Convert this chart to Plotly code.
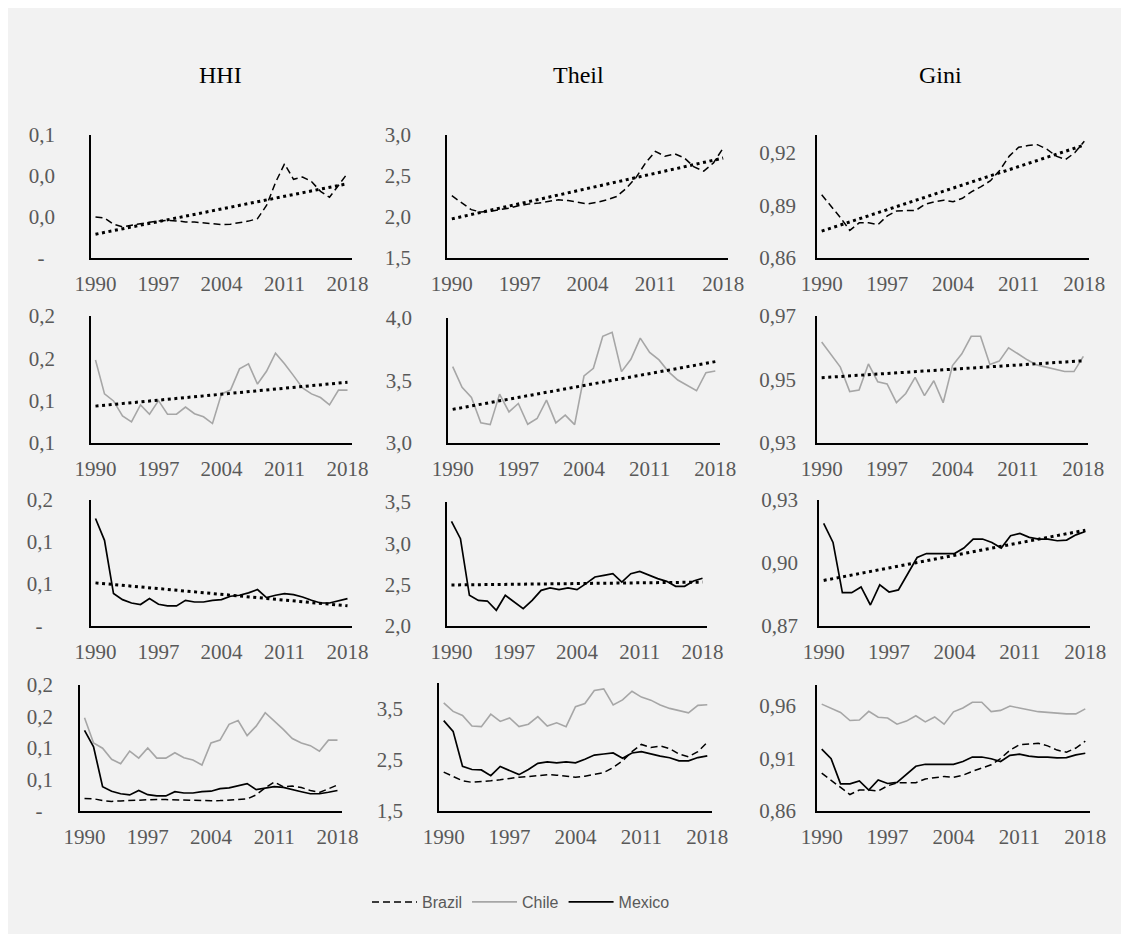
import numpy as np
import plotly.graph_objects as go

years = list(range(1990, 2019))
x_ticks = [1990, 1997, 2004, 2011, 2018]

brazil_hhi = [0.0200, 0.0195, 0.0165, 0.0152, 0.0160, 0.0168, 0.0174, 0.0180, 0.0184, 0.0181,
              0.0176, 0.0175, 0.0171, 0.0165, 0.0163, 0.0165, 0.0171, 0.0180, 0.0192, 0.0256,
              0.0368, 0.0459, 0.0384, 0.0395, 0.0373, 0.0325, 0.0296, 0.0352, 0.0413]
brazil_theil = [2.26, 2.17, 2.09, 2.06, 2.07, 2.09, 2.11, 2.14, 2.16, 2.17,
                2.19, 2.21, 2.20, 2.18, 2.16, 2.18, 2.21, 2.25, 2.35, 2.48,
                2.66, 2.80, 2.74, 2.77, 2.72, 2.61, 2.56, 2.66, 2.84]
brazil_gini = [0.8960, 0.8895, 0.8830, 0.8757, 0.8800, 0.8800, 0.8790, 0.8840, 0.8868, 0.8870,
               0.8870, 0.8905, 0.8920, 0.8929, 0.8920, 0.8940, 0.8978, 0.9006, 0.9040, 0.9100,
               0.9180, 0.9230, 0.9240, 0.9245, 0.9220, 0.9180, 0.9160, 0.9200, 0.9265]

chile_hhi = [0.148, 0.108, 0.0997, 0.082, 0.075, 0.095, 0.084, 0.100, 0.084, 0.084,
             0.0925, 0.0846, 0.081, 0.073, 0.108, 0.1125, 0.1375, 0.1435, 0.1196, 0.1347,
             0.156, 0.1435, 0.1296, 0.115, 0.108, 0.1037, 0.095, 0.1125, 0.1125]
chile_theil = [3.611, 3.445, 3.365, 3.161, 3.147, 3.391, 3.249, 3.316, 3.150, 3.196,
               3.343, 3.161, 3.223, 3.147, 3.536, 3.598, 3.853, 3.885, 3.571, 3.670,
               3.839, 3.724, 3.665, 3.571, 3.504, 3.464, 3.418, 3.563, 3.576]
chile_gini = [0.9618, 0.9579, 0.9539, 0.9462, 0.9467, 0.9549, 0.9493, 0.9486, 0.9427, 0.9456,
              0.9507, 0.9449, 0.9496, 0.9427, 0.9544, 0.9581, 0.9636, 0.9636, 0.9547, 0.9558,
              0.9600, 0.9581, 0.9562, 0.9546, 0.9539, 0.9530, 0.9525, 0.9525, 0.9573]

mexico_hhi = [0.128, 0.102, 0.0386, 0.0314, 0.0274, 0.0255, 0.0326, 0.0259, 0.0239, 0.0239,
              0.0306, 0.0286, 0.0286, 0.0306, 0.0314, 0.0354, 0.0366, 0.0394, 0.0434, 0.0338,
              0.0366, 0.0386, 0.0374, 0.0346, 0.0306, 0.0274, 0.0274, 0.0298, 0.0326]
mexico_theil = [3.266, 3.056, 2.371, 2.310, 2.302, 2.190, 2.371, 2.290, 2.210, 2.310,
                2.431, 2.460, 2.440, 2.460, 2.440, 2.512, 2.593, 2.613, 2.633, 2.532,
                2.633, 2.661, 2.613, 2.573, 2.540, 2.480, 2.480, 2.544, 2.577]
mexico_gini = [0.9189, 0.9098, 0.8859, 0.8859, 0.8886, 0.8800, 0.8896, 0.8862, 0.8872, 0.8947,
               0.9026, 0.9045, 0.9045, 0.9045, 0.9045, 0.9071, 0.9114, 0.9114, 0.9098, 0.9071,
               0.9130, 0.9141, 0.9122, 0.9114, 0.9114, 0.9106, 0.9109, 0.9134, 0.9150]

column_titles = ["HHI", "Theil", "Gini"]
country_names = ["Brazil", "Chile", "Mexico"]

# y-axis ranges, tick values and tick labels per row (HHI, Theil, Gini)
DASH = "-\u00a0\u00a0"
y_ranges = [
    [[0, 0.06], [1.5, 3.0], [0.86, 0.93]],
    [[0.05, 0.20], [3.0, 4.0], [0.93, 0.97]],
    [[0, 0.15], [2.0, 3.5], [0.87, 0.93]],
    [[0, 0.20], [1.5, 4.0], [0.86, 0.98]],
]
y_tickvals = [
    [[0, 0.02, 0.04, 0.06], [1.5, 2.0, 2.5, 3.0], [0.86, 0.89, 0.92]],
    [[0.05, 0.10, 0.15, 0.20], [3.0, 3.5, 4.0], [0.93, 0.95, 0.97]],
    [[0, 0.05, 0.10, 0.15], [2.0, 2.5, 3.0, 3.5], [0.87, 0.90, 0.93]],
    [[0, 0.05, 0.10, 0.15, 0.20], [1.5, 2.5, 3.5], [0.86, 0.91, 0.96]],
]
y_ticktext = [
    [[DASH, "0,0", "0,0", "0,1"], ["1,5", "2,0", "2,5", "3,0"], ["0,86", "0,89", "0,92"]],
    [["0,1", "0,1", "0,2", "0,2"], ["3,0", "3,5", "4,0"], ["0,93", "0,95", "0,97"]],
    [[DASH, "0,1", "0,1", "0,2"], ["2,0", "2,5", "3,0", "3,5"], ["0,87", "0,90", "0,93"]],
    [[DASH, "0,1", "0,1", "0,2", "0,2"], ["1,5", "2,5", "3,5"], ["0,86", "0,91", "0,96"]],
]

series = {
    "Brazil": [brazil_hhi, brazil_theil, brazil_gini],
    "Chile": [chile_hhi, chile_theil, chile_gini],
    "Mexico": [mexico_hhi, mexico_theil, mexico_gini],
}

# ---- layout geometry (pixels in the page) ----
OFF = 8            # page body margin
FW, FH = 1113, 926  # effective figure size in the page
geom = [  # (left, right, top, bottom) per panel
    [(91, 352, 135, 258), (447, 728, 135, 258), (817, 1089, 135, 258)],
    [(91, 352, 316, 443), (448, 720, 318, 443), (817, 1088, 316, 443)],
    [(91, 352, 500, 626), (447, 707, 502, 626), (819, 1090, 500, 626)],
    [(80, 342, 685, 811), (439, 712, 683, 811), (817, 1090, 685, 811)],
]
y_standoff = [[30, 30, 15], [30, 30, 15], [32, 30, 15], [21, 30, 15]]
title_pos = [(220, 75), (578, 75), (940, 75)]
legend_y = 902


def fx(px):
    return (px - OFF) / FW


def fy(py):
    return 1 - (py - OFF) / FH


styles = {
    "Brazil": dict(color="black", width=1.5, dash="7px,4px"),
    "Chile": dict(color="#a6a6a6", width=1.6),
    "Mexico": dict(color="black", width=1.7),
}
trend_style = dict(color="black", width=3, dash="3px,3.6px")

TICKFONT = dict(family="Liberation Serif", size=21, color="#595959")

fig = go.Figure()
shown = set()
for r in range(4):
    for c in range(3):
        k = r * 3 + c + 1
        xa = "x" if k == 1 else f"x{k}"
        ya = "y" if k == 1 else f"y{k}"
        names = [country_names[r]] if r < 3 else country_names
        for nm in names:
            vals = series[nm][c]
            show = (r == 3) and (nm not in shown)
            if show:
                shown.add(nm)
            fig.add_trace(go.Scatter(x=years, y=vals, mode="lines", name=nm,
                                     line=styles[nm], xaxis=xa, yaxis=ya,
                                     showlegend=show, legendgroup=nm,
                                     hoverinfo="skip"))
        if r < 3:
            vals = series[country_names[r]][c]
            coef = np.polyfit(years, vals, 1)
            trend = np.polyval(coef, years)
            fig.add_trace(go.Scatter(x=years, y=trend, mode="lines", line=trend_style,
                                     xaxis=xa, yaxis=ya, showlegend=False,
                                     hoverinfo="skip"))
        L, R, T, B = geom[r][c]
        xkey = "xaxis" if k == 1 else f"xaxis{k}"
        ykey = "yaxis" if k == 1 else f"yaxis{k}"
        fig.layout[xkey] = dict(
            domain=[fx(L), fx(R)], anchor=ya, range=[1989.5, 2018.5],
            tickvals=x_ticks, ticktext=[str(v) for v in x_ticks],
            showgrid=False, zeroline=False, showline=True, linecolor="black",
            linewidth=1.5, ticks="", tickfont=TICKFONT, ticklabelstandoff=6,
            automargin=False, fixedrange=True,
        )
        fig.layout[ykey] = dict(
            domain=[fy(B), fy(T)], anchor=xa, range=y_ranges[r][c],
            tickvals=y_tickvals[r][c], ticktext=y_ticktext[r][c],
            showgrid=False, zeroline=False, showline=True, linecolor="black",
            linewidth=1.5, ticks="", tickfont=TICKFONT,
            ticklabelstandoff=y_standoff[r][c], automargin=False, fixedrange=True,
        )

for (tx, ty), t in zip(title_pos, column_titles):
    fig.add_annotation(text=t, x=fx(tx), y=fy(ty), xref="paper", yref="paper",
                       showarrow=False, xanchor="center", yanchor="middle",
                       font=dict(family="Liberation Serif", size=24, color="black"))

fig.update_layout(
    autosize=True, margin=dict(l=0, r=0, t=0, b=0, pad=0),
    paper_bgcolor="#f2f2f2", plot_bgcolor="rgba(0,0,0,0)",
    legend=dict(orientation="h", x=fx(521), xanchor="center", y=fy(legend_y),
                yanchor="middle", itemwidth=45,
                font=dict(family="Liberation Sans", size=16, color="#595959"),
                bgcolor="rgba(0,0,0,0)"),
)

fig.write_html("out.html")
